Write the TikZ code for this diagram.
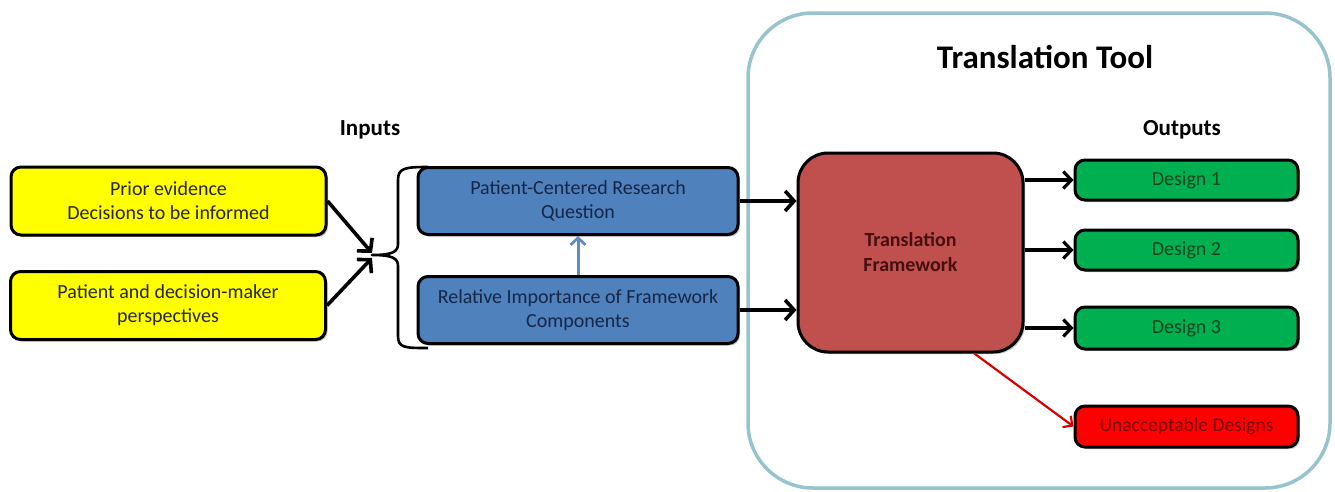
\documentclass[tikz,border=0pt]{standalone}
\usepackage{fontspec}
\setmainfont{Carlito}
\usetikzlibrary{arrows.meta,calc,shadows}
\definecolor{ybox}{RGB}{255,255,0}
\definecolor{bbox}{RGB}{79,129,189}
\definecolor{rbox}{RGB}{192,80,77}
\definecolor{gbox}{RGB}{0,176,80}
\definecolor{ubox}{RGB}{255,0,0}
\definecolor{toolc}{RGB}{150,195,206}
\definecolor{btext}{RGB}{22,38,72}
\definecolor{gtext}{RGB}{12,70,30}
\definecolor{rtext}{RGB}{70,15,15}
\definecolor{utext}{RGB}{120,0,0}
\definecolor{barrow}{RGB}{95,140,195}
\tikzset{
  boxbase/.style={draw=black, line width=3pt, rounded corners=10pt, align=center, inner sep=0pt,
    drop shadow={shadow xshift=2pt, shadow yshift=-2pt, fill=black, opacity=0.25}},
  inbox/.style={boxbase, fill=ybox, minimum width=315pt, minimum height=68pt,
    font=\fontsize{20}{24}\selectfont, text=black!85},
  qbox/.style={boxbase, fill=bbox, minimum width=320pt, minimum height=67pt,
    font=\fontsize{20}{24}\selectfont, text=btext},
  fwbox/.style={boxbase, fill=rbox, rounded corners=30pt, minimum width=225pt, minimum height=199pt,
    font=\bfseries\fontsize{20}{25}\selectfont, text=rtext},
  dbox/.style={boxbase, fill=gbox, minimum width=223pt, minimum height=40pt,
    font=\fontsize{20}{22}\selectfont, text=gtext},
  ubx/.style={boxbase, fill=ubox, minimum width=223pt, minimum height=41pt,
    font=\fontsize{19.5}{22}\selectfont, text=utext},
  lbl/.style={font=\bfseries\fontsize{23}{26}\selectfont, inner sep=0pt},
  conn/.style={draw=black, line width=3.6pt, -{Straight Barb[length=9pt,width=20pt,line width=3.6pt]}},
  thin conn/.style={draw=black, line width=3.2pt, -{Straight Barb[length=8pt,width=17pt,line width=3.2pt]}},
}
\begin{document}
\begin{tikzpicture}[x=1pt,y=-1pt]
\useasboundingbox (0,0) rectangle (1335,491);
% translation tool frame
\draw[draw=toolc, line width=3.5pt, rounded corners=65pt] (748,13) rectangle (1330,488);
\node[font=\bfseries\fontsize{33}{36}\selectfont, inner sep=0pt] (title) at (1045,57) {Translation Tool};
\node[lbl] (inputs) at (370,130) {Inputs};
\node[lbl] (outputs) at (1182,130) {Outputs};
% input boxes
\node[inbox] (y1) at (168.5,201) {Prior evidence\\Decisions to be informed};
\node[inbox] (y2) at (168,305.5) {Patient and decision-maker\\perspectives};
\node[qbox] (b1) at (578,201) {Patient-Centered Research\\Question};
\node[qbox] (b2) at (578,310) {Relative Importance of Framework\\Components};
\node[fwbox] (fw) at (910.5,252.5) {Translation\\Framework};
\node[dbox] (d1) at (1186.5,180) {Design 1};
\node[dbox] (d2) at (1186.5,250) {Design 2};
\node[dbox, minimum height=42pt] (d3) at (1186.5,328) {Design 3};
\node[ubx] (un) at (1186.5,426.5) {Unacceptable Designs};
% brace
\coordinate (brtip) at (372,255);
\draw[line width=2.6pt, line join=round] (428,167) .. controls (405,167) and (398,168) .. (398,180)
  -- (398,244) .. controls (398,252) and (392,255) .. (brtip)
  .. controls (392,255) and (398,258) .. (398,266)
  -- (398,336) .. controls (398,348) and (405,348) .. (428,348);
% arrows to brace
\draw[conn] (y1.east) -- ($(brtip)+(0,-2)$);
\draw[conn] (y2.east) -- ($(brtip)+(0,3)$);
% blue arrows to framework
\draw[conn] (b1.east) -- (b1.east -| fw.west);
\draw[conn] (b2.east) -- (b2.east -| fw.west);
\draw[draw=barrow, line width=3pt, -{Straight Barb[length=7pt,width=15pt,line width=2.8pt]}] (b2.north) -- (b1.south);
% outputs
\draw[thin conn] (d1.west -| fw.east) -- (d1.west);
\draw[thin conn] (d2.west -| fw.east) -- (d2.west);
\draw[thin conn] (d3.west -| fw.east) -- (d3.west);
\draw[draw=ubox!85!black, line width=2.2pt, -{Straight Barb[length=7pt,width=14pt,line width=2.2pt]}]
  ($(fw.south west)!0.78!(fw.south east)$) -- (un.west);
\end{tikzpicture}
\end{document}
